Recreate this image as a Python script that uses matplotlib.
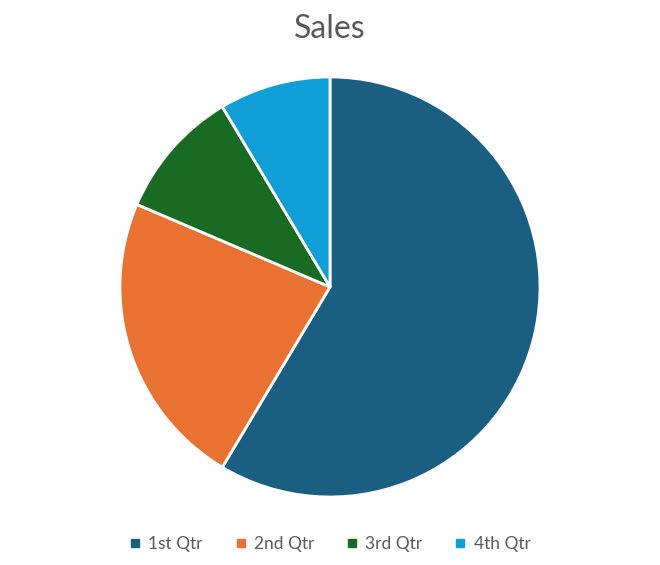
import matplotlib.pyplot as plt
from matplotlib.lines import Line2D

labels = ['1st Qtr', '2nd Qtr', '3rd Qtr', '4th Qtr']
sales = [8.2, 3.2, 1.4, 1.2]
colors = ['#1a5f82', '#e97132', '#196b24', '#0f9ed5']

plt.rcParams['font.family'] = ['Lato', 'DejaVu Sans']

fig = plt.figure(figsize=(6.6, 5.65), dpi=100)
ax = fig.add_axes([0.1818, 0.1204, 0.6364, 0.7434])
ax.pie(sales, colors=colors, startangle=90, counterclock=False,
       wedgeprops={'edgecolor': 'white', 'linewidth': 2})
ax.set_xlim(-1.0, 1.0)
ax.set_ylim(-1.0, 1.0)
ax.set_aspect('equal')

fig.text(0.5, 0.949, 'Sales', ha='center', va='center', fontsize=23, color='#595959')

handles = [Line2D([], [], marker='s', linestyle='none', markersize=6,
                  markerfacecolor=c, markeredgecolor=c) for c in colors]
fig.legend(handles, labels, loc='center', bbox_to_anchor=(0.5, 0.037), ncol=4,
           frameon=False, fontsize=12.5, labelcolor='#595959',
           handlelength=0.6, handletextpad=0.45, columnspacing=1.9)

fig.savefig('out.png', dpi=100, facecolor='white')
